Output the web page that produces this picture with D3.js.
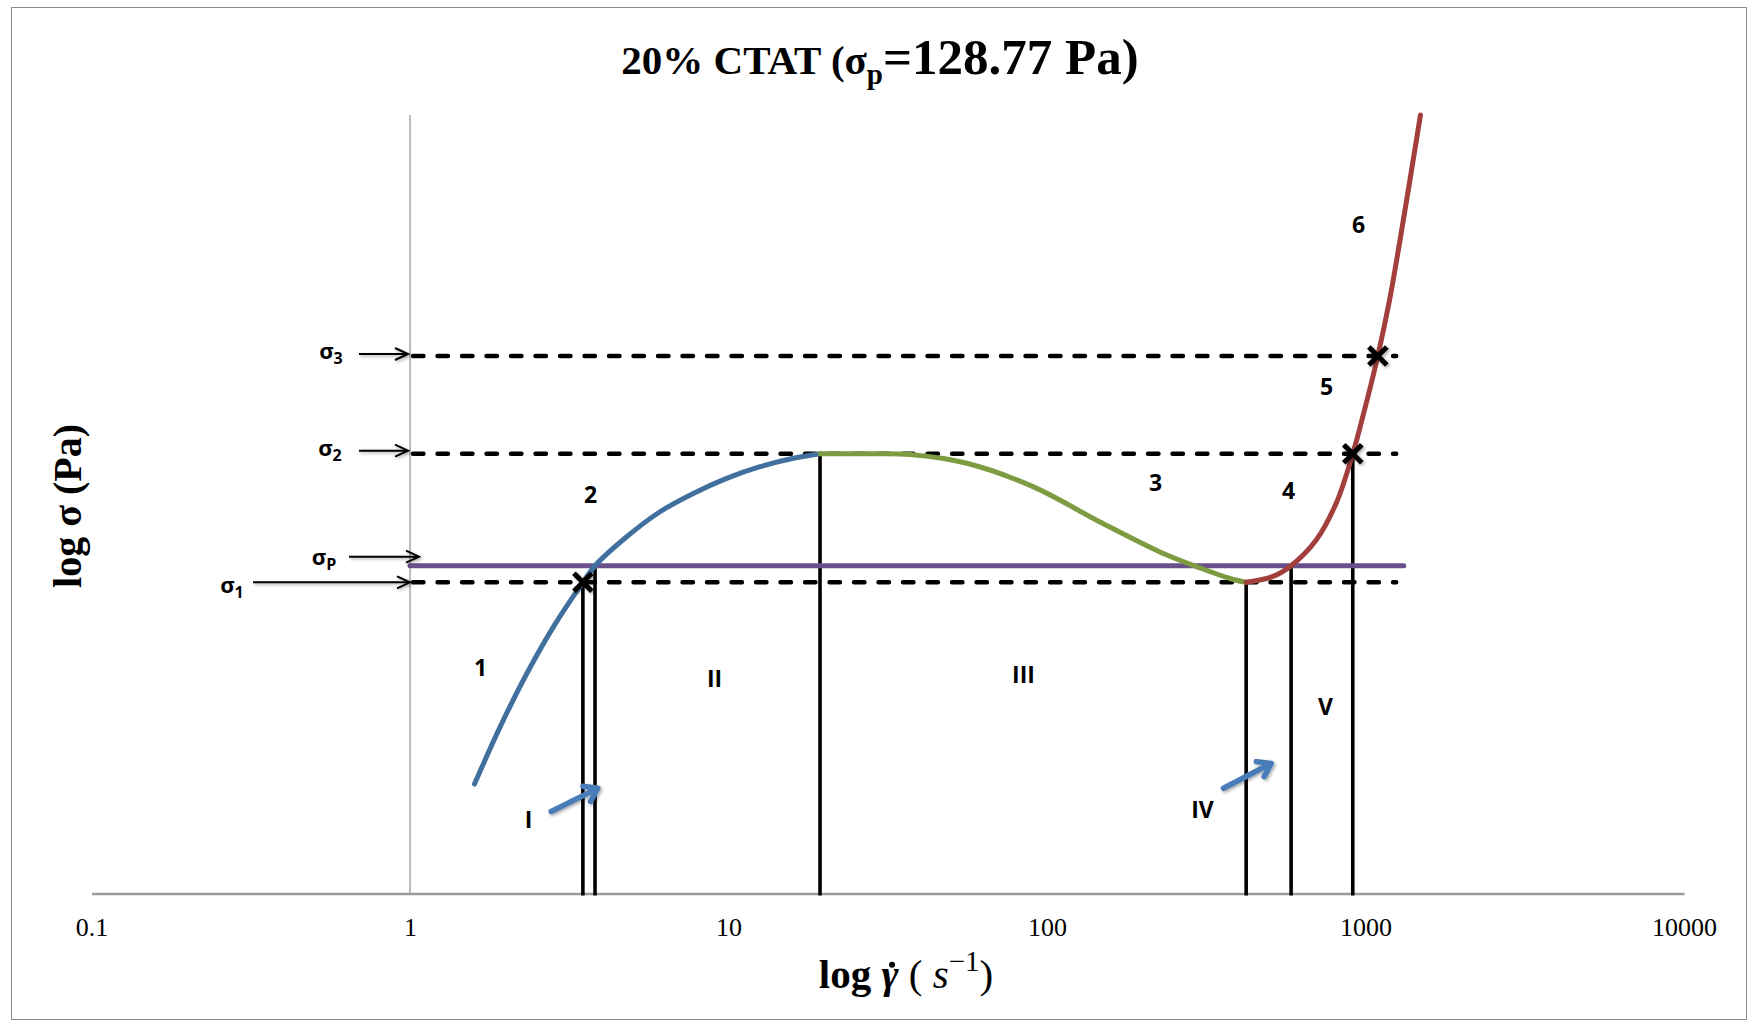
<!DOCTYPE html>
<html>
<head>
<meta charset="utf-8">
<script src="https://cdn.jsdelivr.net/npm/d3@7"></script>
<style>
  body { margin: 0; background: #fff; }
  svg { display: block; }
</style>
</head>
<body>
<svg id="chart" width="1749" height="1023"></svg>
<script>
// ---- data -------------------------------------------------------------
// shear rate (1/s) tick labels on the log axis
const rateTicks = [0.1, 1, 10, 100, 1000, 10000];

// plateau stress (Pa)
const sigmaP = 128.77;

// characteristic stress levels (Pa)
const stressNames  = ["σ1", "σ2", "σ3"];
const stressValues = [119.4, 214.3, 334.2];
const stressLineEnd = 1249;      // shear rate where the dashed guides stop
const plateauLineEnd = 1319;     // shear rate where the σp line stops

// flow curve, branch 1–2 (rising)  [shear rate, stress]
const branchRising = [
  [1.594, 47.7], [1.917, 61.8], [2.325, 78.8], [2.842, 98.3], [3.49, 119.4],
  [3.81, 128.77], [4.79, 146.9], [6.095, 164.6], [7.753, 178.9], [9.87, 191.6],
  [12.56, 202.0], [15.98, 209.9], [19.38, 214.3]
];
// flow curve, branch 3 (decreasing)
const branchFalling = [
  [19.38, 214.3], [27.82, 214.3], [37.14, 213.6], [55.97, 205.2], [90.37, 184.5],
  [146.7, 157.1], [226.3, 137.1], [302.2, 127.5], [375.5, 121.5], [422, 119.4]
];
// flow curve, branches 4–6 (steep rise)
const branchSteep = [
  [422, 119.4], [510.5, 122.5], [584, 128.77], [700.1, 144.7], [812.2, 172.1],
  [912, 214.3], [980.6, 253.6], [1093, 334.2], [1190, 431.0], [1279, 558.7],
  [1374, 734.0], [1488, 1000]
];

// regime boundaries: shear rate and the stress where each one ends
const boundaryRates    = [3.49, 3.81, 19.38, 422, 584, 912];
const boundaryStresses = [119.4, 128.77, 214.3, 119.4, 128.77, 214.3];

// intersections marked with a cross
const crossRates    = [3.49, 912, 1093];
const crossStresses = [119.4, 214.3, 334.2];

// branch numbers and regime numerals  [text, shear rate, stress]
const branchLabels = [
  ["1", 1.665, 80.9], ["2", 3.687, 177.7], ["3", 219.1, 187.7],
  ["4", 573.3, 180.9], ["5", 754.5, 290.2], ["6", 950.6, 606.5]
];
const regimeLabels = [
  ["I", 2.355, 40.5], ["II", 9.04, 76.9], ["III", 84.4, 78.3],
  ["IV", 307.7, 42.4], ["V", 749, 67.7]
];
// pointer arrows to the narrow regimes  [from rate, from stress, to rate, to stress]
const pointerArrows = [
  [2.775, 42.1, 3.887, 46.8],
  [358.3, 46.8, 505.8, 52.4]
];

// ---- layout -----------------------------------------------------------
const W = 1749, H = 1023;
const svg = d3.select("#chart");

const x = d3.scaleLog().domain([0.1, 10000]).range([91.5, 1684]);
const y = d3.scaleLog().domain([29, 1000]).range([893.5, 115]);

const colors = {
  rising: "#41709f",
  falling: "#7d9c41",
  steep: "#a23f3c",
  plateau: "#6a508b",
  pointer: "#4a7dba",
  axis: "#9a9a9a"
};

// drop shadow used on arrows and crosses
const defs = svg.append("defs");
const sh = defs.append("filter").attr("id", "shadow")
  .attr("x", "-50%").attr("y", "-50%").attr("width", "200%").attr("height", "200%");
sh.append("feDropShadow").attr("dx", 1.5).attr("dy", 1.5)
  .attr("stdDeviation", 1.4).attr("flood-color", "#000").attr("flood-opacity", 0.35);

// outer frame
svg.append("rect").attr("x", 11.5).attr("y", 7.5).attr("width", W - 14).attr("height", H - 11)
  .attr("fill", "#fff").attr("stroke", "#8c8c8c").attr("stroke-width", 1);

// title
const title = svg.append("text").attr("x", 880).attr("y", 74)
  .attr("text-anchor", "middle")
  .style("font-family", "'Liberation Serif', serif").style("font-weight", "bold");
title.append("tspan").style("font-size", "41px").text("20% CTAT (σ");
title.append("tspan").style("font-size", "29px").attr("dy", 10).text("p");
title.append("tspan").style("font-size", "51px").attr("dy", -10).text("=128.77 Pa)");

// vertical reference at rate = 1
svg.append("line")
  .attr("x1", x(1)).attr("x2", x(1)).attr("y1", y(1000)).attr("y2", y(29))
  .attr("stroke", "#8f8f8f").attr("stroke-width", 1.2);

// x axis
const xAxis = d3.axisBottom(x).tickValues(rateTicks)
  .tickSize(0).tickPadding(24)
  .tickFormat(d => d >= 1 ? d3.format("d")(d) : String(d));
const gx = svg.append("g").attr("transform", `translate(0,${y(29)})`).call(xAxis);
gx.select(".domain").attr("stroke", colors.axis).attr("stroke-width", 2.5);
gx.selectAll("text").style("font-family", "'Liberation Serif', serif")
  .style("font-size", "26px").attr("fill", "#000");

// x axis title: log γ̇ (s^-1)
const xt = svg.append("text").attr("x", 906).attr("y", 988).attr("text-anchor", "middle")
  .style("font-family", "'Liberation Serif', serif").style("font-size", "41px");
xt.append("tspan").style("font-weight", "bold").text("log ");
xt.append("tspan").style("font-weight", "bold").style("font-style", "italic").text("γ");
xt.append("tspan").text("  (");
xt.append("tspan").style("font-style", "italic").text(" s");
xt.append("tspan").style("font-size", "29px").attr("dy", -17).text("−1");
xt.append("tspan").attr("dy", 17).text(")");
// the dot over γ
{
  const node = xt.node();
  const idx = "log ".length;
  const ext = node.getExtentOfChar(idx);
  svg.append("circle")
    .attr("cx", ext.x + ext.width * 0.62).attr("cy", ext.y + ext.height * 0.3)
    .attr("r", 3).attr("fill", "#000");
}

// y axis title
svg.append("text")
  .attr("transform", "translate(81,506) rotate(-90)")
  .attr("text-anchor", "middle")
  .style("font-family", "'Liberation Serif', serif").style("font-weight", "bold")
  .style("font-size", "40px")
  .text("log σ  (Pa)");

// dashed stress guides
svg.selectAll("line.guide").data(stressValues).join("line").attr("class", "guide")
  .attr("x1", x(1) + 3).attr("x2", x(stressLineEnd))
  .attr("y1", d => y(d)).attr("y2", d => y(d))
  .attr("stroke", "#000").attr("stroke-width", 4.4)
  .attr("stroke-dasharray", "10.5 14").attr("stroke-linecap", "round");

// regime boundaries
svg.selectAll("line.boundary").data(boundaryRates).join("line").attr("class", "boundary")
  .attr("x1", d => x(d)).attr("x2", d => x(d))
  .attr("y1", (d, i) => y(boundaryStresses[i])).attr("y2", y(29) + 2)
  .attr("stroke", "#000").attr("stroke-width", 3.6);

// plateau line
svg.append("line")
  .attr("x1", x(1)).attr("x2", x(plateauLineEnd))
  .attr("y1", y(sigmaP)).attr("y2", y(sigmaP))
  .attr("stroke", colors.plateau).attr("stroke-width", 5).attr("stroke-linecap", "round");

// flow curve branches
const line = d3.line().x(d => x(d[0])).y(d => y(d[1])).curve(d3.curveCatmullRom.alpha(0.5));
[[branchRising, colors.rising], [branchFalling, colors.falling], [branchSteep, colors.steep]]
  .forEach(([data, c]) => {
    svg.append("path").datum(data).attr("d", line)
      .attr("fill", "none").attr("stroke", c).attr("stroke-width", 5)
      .attr("stroke-linecap", "round");
  });

// crosses
svg.selectAll("path.cross").data(crossRates).join("path").attr("class", "cross")
  .attr("transform", (d, i) => `translate(${x(d)},${y(crossStresses[i])})`)
  .attr("d", "M-9,-9L9,9M-9,9L9,-9")
  .attr("stroke", "#000").attr("stroke-width", 5).attr("fill", "none")
  .attr("filter", "url(#shadow)");

// stress arrows on the left
function leftArrow(x0, x1, yy) {
  const g = svg.append("g").attr("filter", "url(#shadow)")
    .attr("stroke", "#000").attr("stroke-width", 2).attr("fill", "none");
  g.append("line").attr("x1", x0).attr("x2", x1).attr("y1", yy).attr("y2", yy);
  g.append("path").attr("d", `M${x1 - 13},${yy - 6}L${x1},${yy}L${x1 - 13},${yy + 6}`);
}
const labelFont = "'Open Sans', 'Noto Sans', sans-serif";
function sigmaLabel(cx, by, sub) {
  const t = svg.append("text").attr("x", cx).attr("y", by).attr("text-anchor", "middle")
    .style("font-family", labelFont).style("font-weight", "bold").style("font-size", "22px");
  t.append("tspan").text("σ");
  t.append("tspan").attr("dy", 5).style("font-size", "16px").text(sub);
}
leftArrow(359, 408, y(stressValues[2]) - 2);
sigmaLabel(331, y(stressValues[2]) + 3, "3");
leftArrow(359, 408, y(stressValues[1]) - 3);
sigmaLabel(330, y(stressValues[1]) + 2, "2");
leftArrow(349, 419, y(sigmaP) - 9);
sigmaLabel(324, y(sigmaP) - 1, "P");
leftArrow(253, 410, y(stressValues[0]));
sigmaLabel(232, y(stressValues[0]) + 11, "1");

// branch numbers and regime numerals
svg.selectAll("text.lbl").data(branchLabels.concat(regimeLabels)).join("text").attr("class", "lbl")
  .attr("x", d => x(d[1])).attr("y", d => y(d[2]))
  .attr("text-anchor", "middle").attr("dy", "0.36em")
  .style("font-family", labelFont).style("font-weight", "bold").style("font-size", "23px")
  .text(d => d[0]);

// blue pointer arrows
pointerArrows.forEach(([r0, s0, r1, s1]) => {
  const x0 = x(r0), y0 = y(s0), x1 = x(r1), y1 = y(s1);
  const ang = Math.atan2(y1 - y0, x1 - x0);
  const L = 15, spread = 0.6;
  const g = svg.append("g").attr("filter", "url(#shadow)")
    .attr("stroke", colors.pointer).attr("stroke-width", 5.5).attr("fill", "none")
    .attr("stroke-linecap", "round").attr("stroke-linejoin", "round");
  g.append("line").attr("x1", x0).attr("y1", y0).attr("x2", x1 - 3 * Math.cos(ang)).attr("y2", y1 - 3 * Math.sin(ang));
  g.append("path").attr("d",
    `M${x1 - L * Math.cos(ang - spread)},${y1 - L * Math.sin(ang - spread)}` +
    `L${x1},${y1}` +
    `L${x1 - L * Math.cos(ang + spread)},${y1 - L * Math.sin(ang + spread)}`);
});
</script>
</body>
</html>
